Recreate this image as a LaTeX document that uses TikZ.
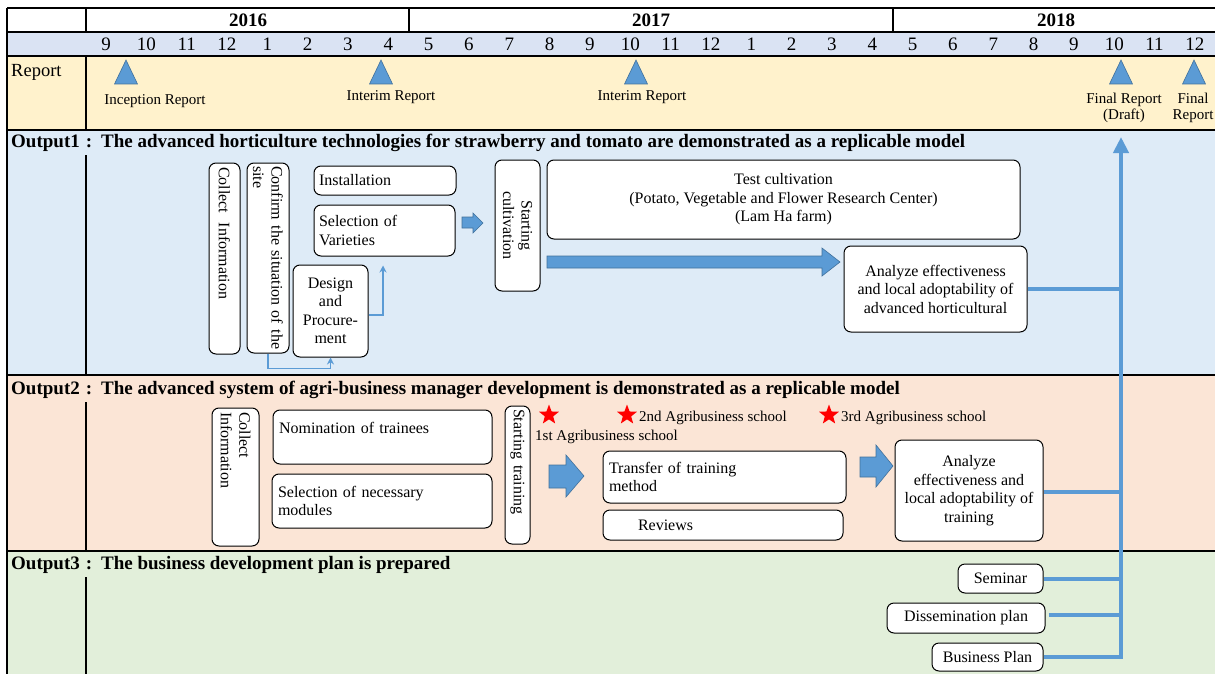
\documentclass[tikz,border=0pt]{standalone}
\usepackage{fontspec}
\setmainfont{Liberation Serif}
\usetikzlibrary{shapes.geometric,arrows.meta,calc}
\definecolor{monthbg}{HTML}{DAE3F3}
\definecolor{reportbg}{HTML}{FFF2CC}
\definecolor{outabg}{HTML}{DEEBF7}
\definecolor{outbbg}{HTML}{FBE5D6}
\definecolor{outcbg}{HTML}{E2EFDA}
\definecolor{mblue}{HTML}{5B9BD5}
\definecolor{dblue}{HTML}{41719C}
\newcommand{\fsbox}{\fontsize{16}{18.5}\selectfont}
\newcommand{\fsrep}{\fontsize{15}{16}\selectfont}
\newcommand{\fsmon}{\fontsize{19}{21}\selectfont}
\newcommand{\fstitle}{\fontsize{19}{21}\selectfont\bfseries}
\begin{document}
\begin{tikzpicture}[x=1pt,y=-1pt,
  grid/.style={draw=black, line width=1.1pt},
  box/.style={draw=black, line width=1pt, rounded corners=7pt, fill=white, inner sep=0pt, font=\fsbox},
  tri/.style={fill=mblue, draw=dblue, line width=0.6pt},
  blockarrow/.style={fill=mblue, draw=dblue, line width=0.6pt},
  thinconn/.style={draw=mblue, line width=1.5pt, -{Stealth[length=7pt,width=7pt]}},
  bigconn/.style={draw=mblue, line width=4pt},
  redstar/.style={star, star points=5, star point ratio=2.4, fill=red, draw=none, minimum size=21pt, inner sep=0pt},
  replabel/.style={font=\fsrep, inner sep=0pt, align=center},
  schoollabel/.style={font=\fsrep, inner sep=0pt}
]
\useasboundingbox (0,0) rectangle (1215,674);
\fill[white] (0,0) rectangle (1215,674);
% row backgrounds
\fill[monthbg] (7,32) rectangle (1215,56);
\fill[reportbg] (7,56) rectangle (1215,130);
\fill[outabg] (7,130) rectangle (1215,375);
\fill[outbbg] (7,375) rectangle (1215,551);
\fill[outcbg] (7,551) rectangle (1215,674);
% grid lines
\foreach \yy in {8,32,56,130,375,551} \draw[grid] (7,\yy) -- (1215,\yy);
\draw[grid] (7,8) -- (7,674);
\draw[grid] (86,8) -- (86,32);
\draw[grid] (409,8) -- (409,32);
\draw[grid] (893,8) -- (893,32);
\draw[grid] (86,56) -- (86,130);
\draw[grid] (86,155) -- (86,375);
\draw[grid] (86,402) -- (86,551);
\draw[grid] (86,577) -- (86,674);
% years
\node[font=\fstitle] (y16) at (248,20) {2016};
\node[font=\fstitle] (y17) at (651,20) {2017};
\node[font=\fstitle] (y18) at (1056,20) {2018};
% months
\foreach \i in {0,...,27} {
  \pgfmathtruncatemacro{\mm}{mod(\i+8,12)+1}
  \node[font=\fsmon, inner sep=0pt] (m\i) at (106+40.33*\i,44) {\mm};
}
% report row
\node[font=\fontsize{18.5}{20}\selectfont, anchor=base west, inner sep=0pt] (rep) at (11,77) {Report};
\foreach \xx in {126,381,636,1121,1194}
  \filldraw[tri] (\xx,60) -- (\xx+11.5,84) -- (\xx-11.5,84) -- cycle;
\node[replabel] (r1) at (155,101) {Inception Report};
\node[replabel] (r2) at (391,97) {Interim Report};
\node[replabel] (r3) at (642,97) {Interim Report};
\node[replabel, font=\fontsize{15}{16}\selectfont] (r4) at (1124,108) {Final Report\\(Draft)};
\node[replabel, font=\fontsize{15}{16}\selectfont] (r5) at (1193,108) {Final\\Report};
% titles
\node[font=\fstitle, anchor=west, inner sep=0pt] (t1) at (11,143) {Output1\hspace{6pt}:\hspace{9pt}The advanced horticulture technologies for strawberry and tomato are demonstrated as a replicable model};
\node[font=\fstitle, anchor=west, inner sep=0pt] (t2) at (11,390) {Output2\hspace{6pt}:\hspace{9pt}The advanced system of agri-business manager development is demonstrated as a replicable model};
\node[font=\fstitle, anchor=west, inner sep=0pt] (t3) at (11,565) {Output3\hspace{6pt}:\hspace{9pt}The business development plan is prepared};

% ---- Output 1 ----
\node[box, rotate=-90, minimum width=191pt, minimum height=31pt, text width=183pt, align=left] (ci1) at (224.5,258.5) {Collect\hspace{0.6em}Information};
\node[box, rotate=-90, minimum width=190pt, minimum height=42pt, text width=184pt, align=left] (cs) at (268,258) {Confirm the situation of the\\site};
\node[box, minimum width=142pt, minimum height=29pt, text width=132pt, align=left] (inst) at (385,180.5) {Installation};
\node[box, minimum width=141pt, minimum height=51pt, text width=131pt, align=left] (sel) at (384.5,230.5) {Selection of\\Varieties};
\node[box, minimum width=75pt, minimum height=92pt, align=center] (dp) at (330.5,311) {Design\\and\\Procure-\\ment};
\node[box, rotate=-90, minimum width=131pt, minimum height=45pt, align=center] (sc) at (517.5,225.5) {Starting\\cultivation};
\node[box, minimum width=473pt, minimum height=79pt, align=center] (tc) at (783.5,199.5) {Test cultivation\\(Potato, Vegetable and Flower Research Center)\\(Lam Ha farm)};
\node[box, minimum width=183pt, minimum height=86pt, align=center] (an1) at (935.5,289) {Analyze effectiveness\\and local adoptability of\\advanced horticultural};

\draw[thinconn] (cs.east) -- ++(0,15) -| (dp.south);
\draw[thinconn] ([yshift=-4pt]dp.east) -| ([xshift=-1.5pt,yshift=-9pt]sel.south);
\filldraw[blockarrow] (462,217) -- (473,217) -- (473,213) -- (483,223) -- (473,233) -- (473,228) -- (462,228) -- cycle;
\filldraw[blockarrow] (547,256) -- (822,256) -- (822,248) -- (840,262) -- (822,276) -- (822,268) -- (547,268) -- cycle;

% vertical collector
\coordinate (vtop) at (1121,137);
\coordinate (vbot) at (1121,657);

% ---- Output 2 ----
\node[box, rotate=-90, minimum width=138pt, minimum height=47pt, text width=130pt, align=left] (ci2) at (235.5,477) {Collect\\Information};
\node[box, minimum width=219pt, minimum height=54pt, text width=207pt, align=left] (nom) at (382.5,437) {Nomination of trainees\\\mbox{}};
\node[box, minimum width=220pt, minimum height=54pt, text width=208pt, align=left] (mod) at (382,501) {Selection of necessary\\modules};
\node[box, rotate=-90, minimum width=138pt, minimum height=25pt, text width=132pt, align=left] (st) at (517.5,475) {Starting training};
\node[redstar] (s1) at (549,415) {};
\node[redstar] (s2) at (627,415) {};
\node[redstar] (s3) at (829,415) {};
\node[schoollabel, anchor=west] (l1) at (535,437) {1st Agribusiness school};
\node[schoollabel, anchor=west] (l2) at (639,418) {2nd Agribusiness school};
\node[schoollabel, anchor=west] (l3) at (841,418) {3rd Agribusiness school};
\filldraw[blockarrow] (549,465) -- (566,465) -- (566,455) -- (584,476) -- (566,497) -- (566,488) -- (549,488) -- cycle;
\node[box, minimum width=243pt, minimum height=52pt, text width=231pt, align=left] (tr) at (724.5,477) {Transfer of training\\method};
\node[box, minimum width=240pt, minimum height=30pt, text width=228pt, align=left] (rev) at (723,525) {\hspace*{29pt}Reviews};
\filldraw[blockarrow] (860,457) -- (876,457) -- (876,445) -- (893,466) -- (876,487) -- (876,477) -- (860,477) -- cycle;
\node[box, minimum width=148pt, minimum height=101pt, align=center] (an2) at (969,490.5) {Analyze\\effectiveness and\\local adoptability of\\training};

% ---- Output 3 ----
\node[box, minimum width=85pt, minimum height=29pt] (sem) at (1000.5,578.5) {Seminar};
\node[box, minimum width=158pt, minimum height=30pt] (dis) at (966,618) {Dissemination plan};
\node[box, minimum width=111pt, minimum height=28pt] (bp) at (987.5,657) {Business Plan};

% connectors to collector
\draw[bigconn] (an1.east) -- (an1.east -| vtop);
\draw[bigconn] ([yshift=-1pt]an2.east) -- ([yshift=-1pt]an2.east -| vtop);
\draw[bigconn] (sem.east) -- (sem.east -| vtop);
\draw[bigconn] ([xshift=3pt,yshift=3pt]dis.east) -- ([yshift=3pt]dis.east -| vtop);
\draw[bigconn] (bp.east) -- (bp.east -| vtop);
\draw[bigconn, -{Triangle[length=16pt,width=15pt]}] ([yshift=-2pt]vbot) -- (vtop);
\end{tikzpicture}
\end{document}
